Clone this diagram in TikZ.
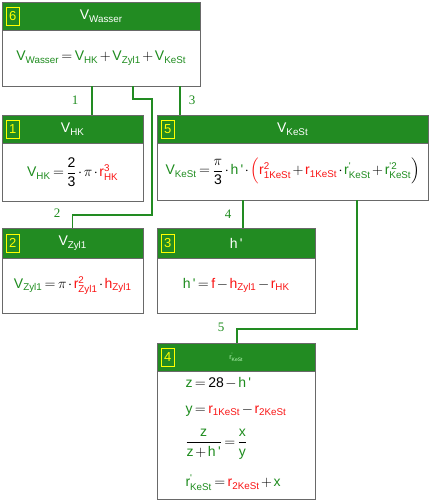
\documentclass[tikz,border=0pt]{standalone}
\usepackage{amsmath}
\usepackage{fontspec}
\setmainfont{Liberation Sans}
\newfontfamily\labelfont{Liberation Serif}
\usetikzlibrary{positioning}
\definecolor{boxgreen}{RGB}{34,139,34}
\definecolor{fgreen}{RGB}{30,140,30}
\definecolor{fred}{RGB}{250,20,20}
\definecolor{framegray}{RGB}{105,105,105}
\definecolor{badgeyellow}{RGB}{255,255,0}

\newcommand{\gvar}[2]{\textcolor{fgreen}{\text{#1}_{\text{#2}}}}
\newcommand{\rvar}[2]{\textcolor{fred}{\text{#1}_{\text{#2}}}}
\newcommand{\gtxt}[1]{\textcolor{fgreen}{\text{#1}}}
\newcommand{\rtxt}[1]{\textcolor{fred}{\text{#1}}}
\newcommand{\hpr}{\gtxt{h\,\textquotesingle}}
\newcommand{\rpr}{\text{r}^{\text{\textquotesingle}}_{\text{KeSt}}}
\newcommand{\tightmath}{\thickmuskip=3mu plus 1mu\medmuskip=2mu plus 1mu}

\begin{document}
\begin{tikzpicture}[x=1pt,y=-1pt,
  head/.style={draw=framegray,fill=boxgreen,anchor=north west,inner sep=0pt,
    text=white,font=\fontsize{14}{16}\selectfont},
  body/.style={draw=framegray,fill=white,anchor=north west,inner sep=0pt,
    font=\fontsize{14}{17}\selectfont\tightmath},
  badge/.style={draw=badgeyellow,text=badgeyellow,inner sep=0pt,
    minimum width=13pt,minimum height=18pt,font=\fontsize{13}{14}\selectfont},
  line/.style={anchor=west,font=\fontsize{14}{17}\selectfont\tightmath},
  link/.style={draw=boxgreen,line width=1.3pt},
  tag/.style={text=fgreen,font=\labelfont\fontsize{13}{14}\selectfont}]
  \useasboundingbox (0,0) rectangle (430,501);
  % box 6: total volume
  \node[head,minimum width=198pt,minimum height=28pt] (h6) at (2,2) {$\text{V}_{\text{Wasser}}$};
  \node[badge,right=4pt of h6.west] (n6) {6};
  \node[body,minimum width=198pt,minimum height=56pt] (b6) at (2,30)
    {$\gvar{V}{Wasser}=\gvar{V}{HK}+\gvar{V}{Zyl1}+\gvar{V}{KeSt}$};
  % box 1: half sphere
  \node[head,minimum width=141pt,minimum height=28pt] (h1) at (2,115) {$\text{V}_{\text{HK}}$};
  \node[badge,right=4pt of h1.west] (n1) {1};
  \node[body,minimum width=141pt,minimum height=58pt] (b1) at (2,143)
    {$\gvar{V}{HK}=\dfrac{\text{2}}{\text{3}}\cdot\pi\cdot\textcolor{fred}{\text{r}^{\text{3}}_{\text{HK}}}$};
  % box 5: truncated cone
  \node[head,minimum width=271pt,minimum height=28pt] (h5) at (157,115) {$\text{V}_{\text{KeSt}}$};
  \node[badge,right=4pt of h5.west] (n5) {5};
  \node[body,minimum width=271pt,minimum height=57pt] (b5) at (157,143)
    {$\gvar{V}{KeSt}=\dfrac{\pi}{\text{3}}\cdot\hpr\cdot\textcolor{fred}{\Big(}\textcolor{fred}{\text{r}^{\text{2}}_{\text{1KeSt}}}+\rvar{r}{1KeSt}\cdot\textcolor{fgreen}{\rpr}+\textcolor{fgreen}{\text{r}^{\text{\textquotesingle2}}_{\text{KeSt}}}\Big)$};
  % box 2: cylinder
  \node[head,minimum width=141pt,minimum height=30pt] (h2) at (2,228) {$\text{V}_{\text{Zyl1}}$};
  \node[badge,right=4pt of h2.west] (n2) {2};
  \node[body,minimum width=141pt,minimum height=55pt] (b2) at (2,258)
    {$\gvar{V}{Zyl1}=\pi\cdot\textcolor{fred}{\text{r}^{\text{2}}_{\text{Zyl1}}}\cdot\rvar{h}{Zyl1}$};
  % box 3: cone height
  \node[head,minimum width=158pt,minimum height=30pt] (h3) at (157,228) {h\,\textquotesingle};
  \node[badge,right=4pt of h3.west] (n3) {3};
  \node[body,minimum width=158pt,minimum height=55pt] (b3) at (157,258)
    {$\hpr=\rtxt{f}-\rvar{h}{Zyl1}-\rvar{r}{HK}$};
  % box 4: small radius
  \node[head,minimum width=158pt,minimum height=28pt,font=\fontsize{7}{8}\selectfont,text=green!25!white] (h4) at (157,343) {$\rpr$};
  \node[badge,right=4pt of h4.west] (n4) {4};
  \node[body,minimum width=158pt,minimum height=128pt] (b4) at (157,371) {};
  \node[line] (l1) at (182,383) {$\gtxt{z}=\text{28}-\hpr$};
  \node[line] (l2) at (182,411) {$\gtxt{y}=\rvar{r}{1KeSt}-\rvar{r}{2KeSt}$};
  \node[line] (l3) at (182,444) {$\dfrac{\gtxt{z}}{\gtxt{z}+\hpr}=\dfrac{\gtxt{x}}{\gtxt{y}}$};
  \node[line] (l4) at (182,483) {$\textcolor{fgreen}{\rpr}=\rvar{r}{2KeSt}+\gtxt{x}$};
  % connectors
  \coordinate (o1) at (92,86);
  \coordinate (o2) at (133,86);
  \coordinate (o3) at (180,86);
  \coordinate (o4) at (243,200);
  \coordinate (o5) at (357,200);
  \draw[link] (o1) -- (o1 |- h1.north);
  \draw[link] (o2) -- ++(0,13) -| (152,215) -| (h2.north);
  \draw[link] (o3) -- (o3 |- h5.north);
  \draw[link] (o4) -- (o4 |- h3.north);
  \draw[link] (o5) -- (357,329) -| (237,343);
  \node[tag] (t1) at (75,100) {1};
  \node[tag] (t2) at (57,213) {2};
  \node[tag] (t3) at (192,100) {3};
  \node[tag] (t4) at (228,214) {4};
  \node[tag] (t5) at (221,327) {5};
\end{tikzpicture}
\end{document}
